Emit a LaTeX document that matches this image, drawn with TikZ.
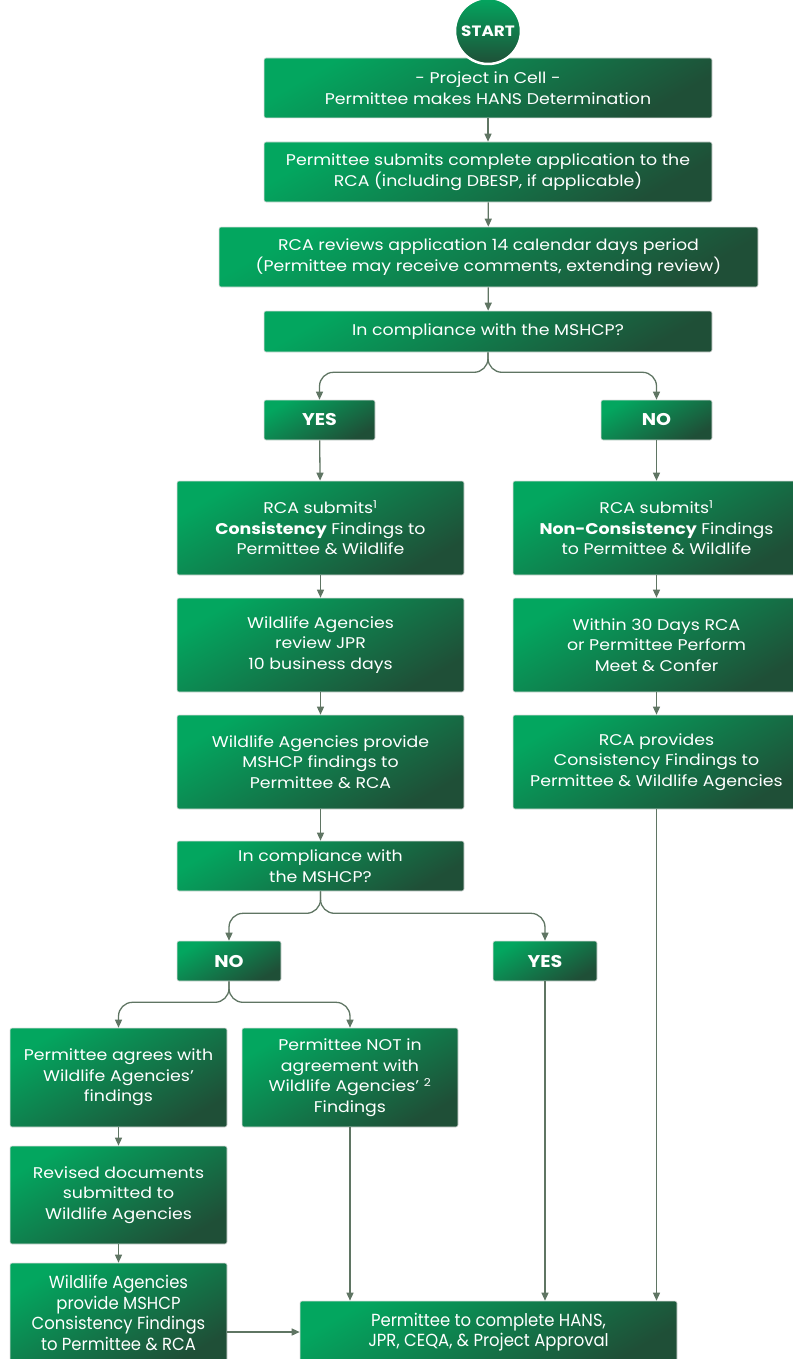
\documentclass[tikz,border=0pt]{standalone}
\usepackage{fontspec}
\setmainfont{Poppins}[FakeStretch=1.12]
\newfontfamily\narrowfont[FakeStretch=0.94]{Poppins}
\usetikzlibrary{arrows.meta}
\definecolor{boxlight}{HTML}{03A65F}
\definecolor{boxdark}{HTML}{1F4F37}
\definecolor{linkline}{HTML}{5F7563}

\begin{document}
\begin{tikzpicture}[x=1pt,y=-1pt,
  box/.style={rounded corners=2pt,draw=black!12,line width=0.6pt,
              top color=boxlight,bottom color=boxdark,shading angle=30,
              text=white,align=center,inner sep=0pt,
              font=\fontsize{15.5}{20.5}\selectfont},
  answer/.style={box,minimum height=40pt,font=\fontsize{17}{18}\selectfont\bfseries},
  startnode/.style={circle,draw=white,line width=2.5pt,minimum size=66pt,
                    top color=boxlight,bottom color=boxdark,text=white,
                    font=\fontsize{15}{16}\selectfont\bfseries},
  link/.style={-{Triangle[length=8pt,width=7pt]},line width=1.3pt,draw=linkline}
]
\useasboundingbox (0,0) rectangle (792,1359);
% main trunk
\node[box,minimum width=448pt,minimum height=60pt] (hans) at (488,88)
  {- Project in Cell -\\Permittee makes HANS Determination};
\node[startnode] (start) at (488,31) {START};
\node[box,minimum width=448pt,minimum height=60pt] (apply) at (488,172)
  {Permittee submits complete application to the\\RCA (including DBESP, if applicable)};
\node[box,minimum width=539pt,minimum height=60pt] (review) at (488.5,257)
  {RCA reviews application 14 calendar days period\\(Permittee may receive comments, extending review)};
\node[box,minimum width=448pt,minimum height=41pt] (comply) at (488,331.5)
  {In compliance with the MSHCP?};
\node[answer,minimum width=111pt] (yes) at (319.5,420) {YES};
\node[answer,minimum width=111pt] (no) at (656.5,420) {NO};
% yes column
\node[box,minimum width=287pt,minimum height=94pt] (consist) at (320.5,528)
  {RCA submits\textsuperscript{1}\\\textbf{Consistency} Findings to\\Permittee \& Wildlife};
\node[box,minimum width=287pt,minimum height=94pt] (jpr) at (320.5,645)
  {Wildlife Agencies\\review JPR\\10 business days};
\node[box,minimum width=287pt,minimum height=94pt] (findings) at (320.5,762)
  {Wildlife Agencies provide\\MSHCP findings to\\Permittee \& RCA};
\node[box,minimum width=287pt,minimum height=50pt] (comply2) at (320.5,866)
  {In compliance with\\the MSHCP?};
% no column
\node[box,minimum width=287pt,minimum height=94pt] (nonconsist) at (656.5,528)
  {RCA submits\textsuperscript{1}\\\textbf{Non-Consistency} Findings\\to Permittee \& Wildlife};
\node[box,minimum width=287pt,minimum height=94pt] (meet) at (656.5,645)
  {Within 30 Days RCA\\or Permittee Perform\\Meet \& Confer};
\node[box,minimum width=287pt,minimum height=94pt] (rcaprov) at (656.5,762)
  {RCA provides\\Consistency Findings to\\Permittee \& Wildlife Agencies};
% second decision
\node[answer,minimum width=104pt] (no2) at (229,961) {NO};
\node[answer,minimum width=104pt] (yes2) at (545,961) {YES};
\node[box,minimum width=217pt,minimum height=99pt] (agree) at (118.5,1077.5)
  {Permittee agrees with\\Wildlife Agencies’\\findings};
\node[box,minimum width=216pt,minimum height=99pt] (notagree) at (350,1077.5)
  {Permittee NOT in\\agreement with\\Wildlife Agencies’ \textsuperscript{2}\\Findings};
\node[box,minimum width=217pt,minimum height=98pt] (revised) at (118.5,1195)
  {Revised documents\\submitted to\\Wildlife Agencies};
\node[box,minimum width=217pt,minimum height=100pt,font=\narrowfont\fontsize{17.5}{20.5}\selectfont] (provide) at (118.5,1313)
  {Wildlife Agencies\\provide MSHCP\\Consistency Findings\\to Permittee \& RCA};
\node[box,minimum width=377pt,minimum height=62pt,font=\narrowfont\fontsize{17.5}{20.5}\selectfont] (final) at (488.5,1332)
  {Permittee to complete HANS,\\JPR, CEQA, \& Project Approval};
% connectors
\draw[link] (hans) -- (apply);
\draw[link] (apply) -- (review);
\draw[link] (review) -- (comply);
\draw[link,rounded corners=14pt] (comply.south) -- ++(0,20) -| (yes.north);
\draw[link,rounded corners=14pt] (comply.south) -- ++(0,20) -| (no.north);
\draw[link] (yes) -- (consist);
\draw[link] (consist) -- (jpr);
\draw[link] (jpr) -- (findings);
\draw[link] (findings) -- (comply2);
\draw[link] (no) -- (nonconsist);
\draw[link] (nonconsist) -- (meet);
\draw[link] (meet) -- (rcaprov);
\draw[link] (rcaprov) -- (rcaprov |- final.north);
\draw[link,rounded corners=14pt] (comply2.south) -- ++(0,22) -| (no2.north);
\draw[link,rounded corners=14pt] (comply2.south) -- ++(0,22) -| (yes2.north);
\draw[link] (yes2) -- (yes2 |- final.north);
\draw[link,rounded corners=14pt] (no2.south) -- ++(0,21) -| (agree.north);
\draw[link,rounded corners=14pt] (no2.south) -- ++(0,21) -| (notagree.north);
\draw[link] (notagree) -- (notagree |- final.north);
\draw[link] (agree) -- (revised);
\draw[link] (revised) -- (provide);
\draw[link] (provide.east |- final) -- (final.west);
\end{tikzpicture}
\end{document}
